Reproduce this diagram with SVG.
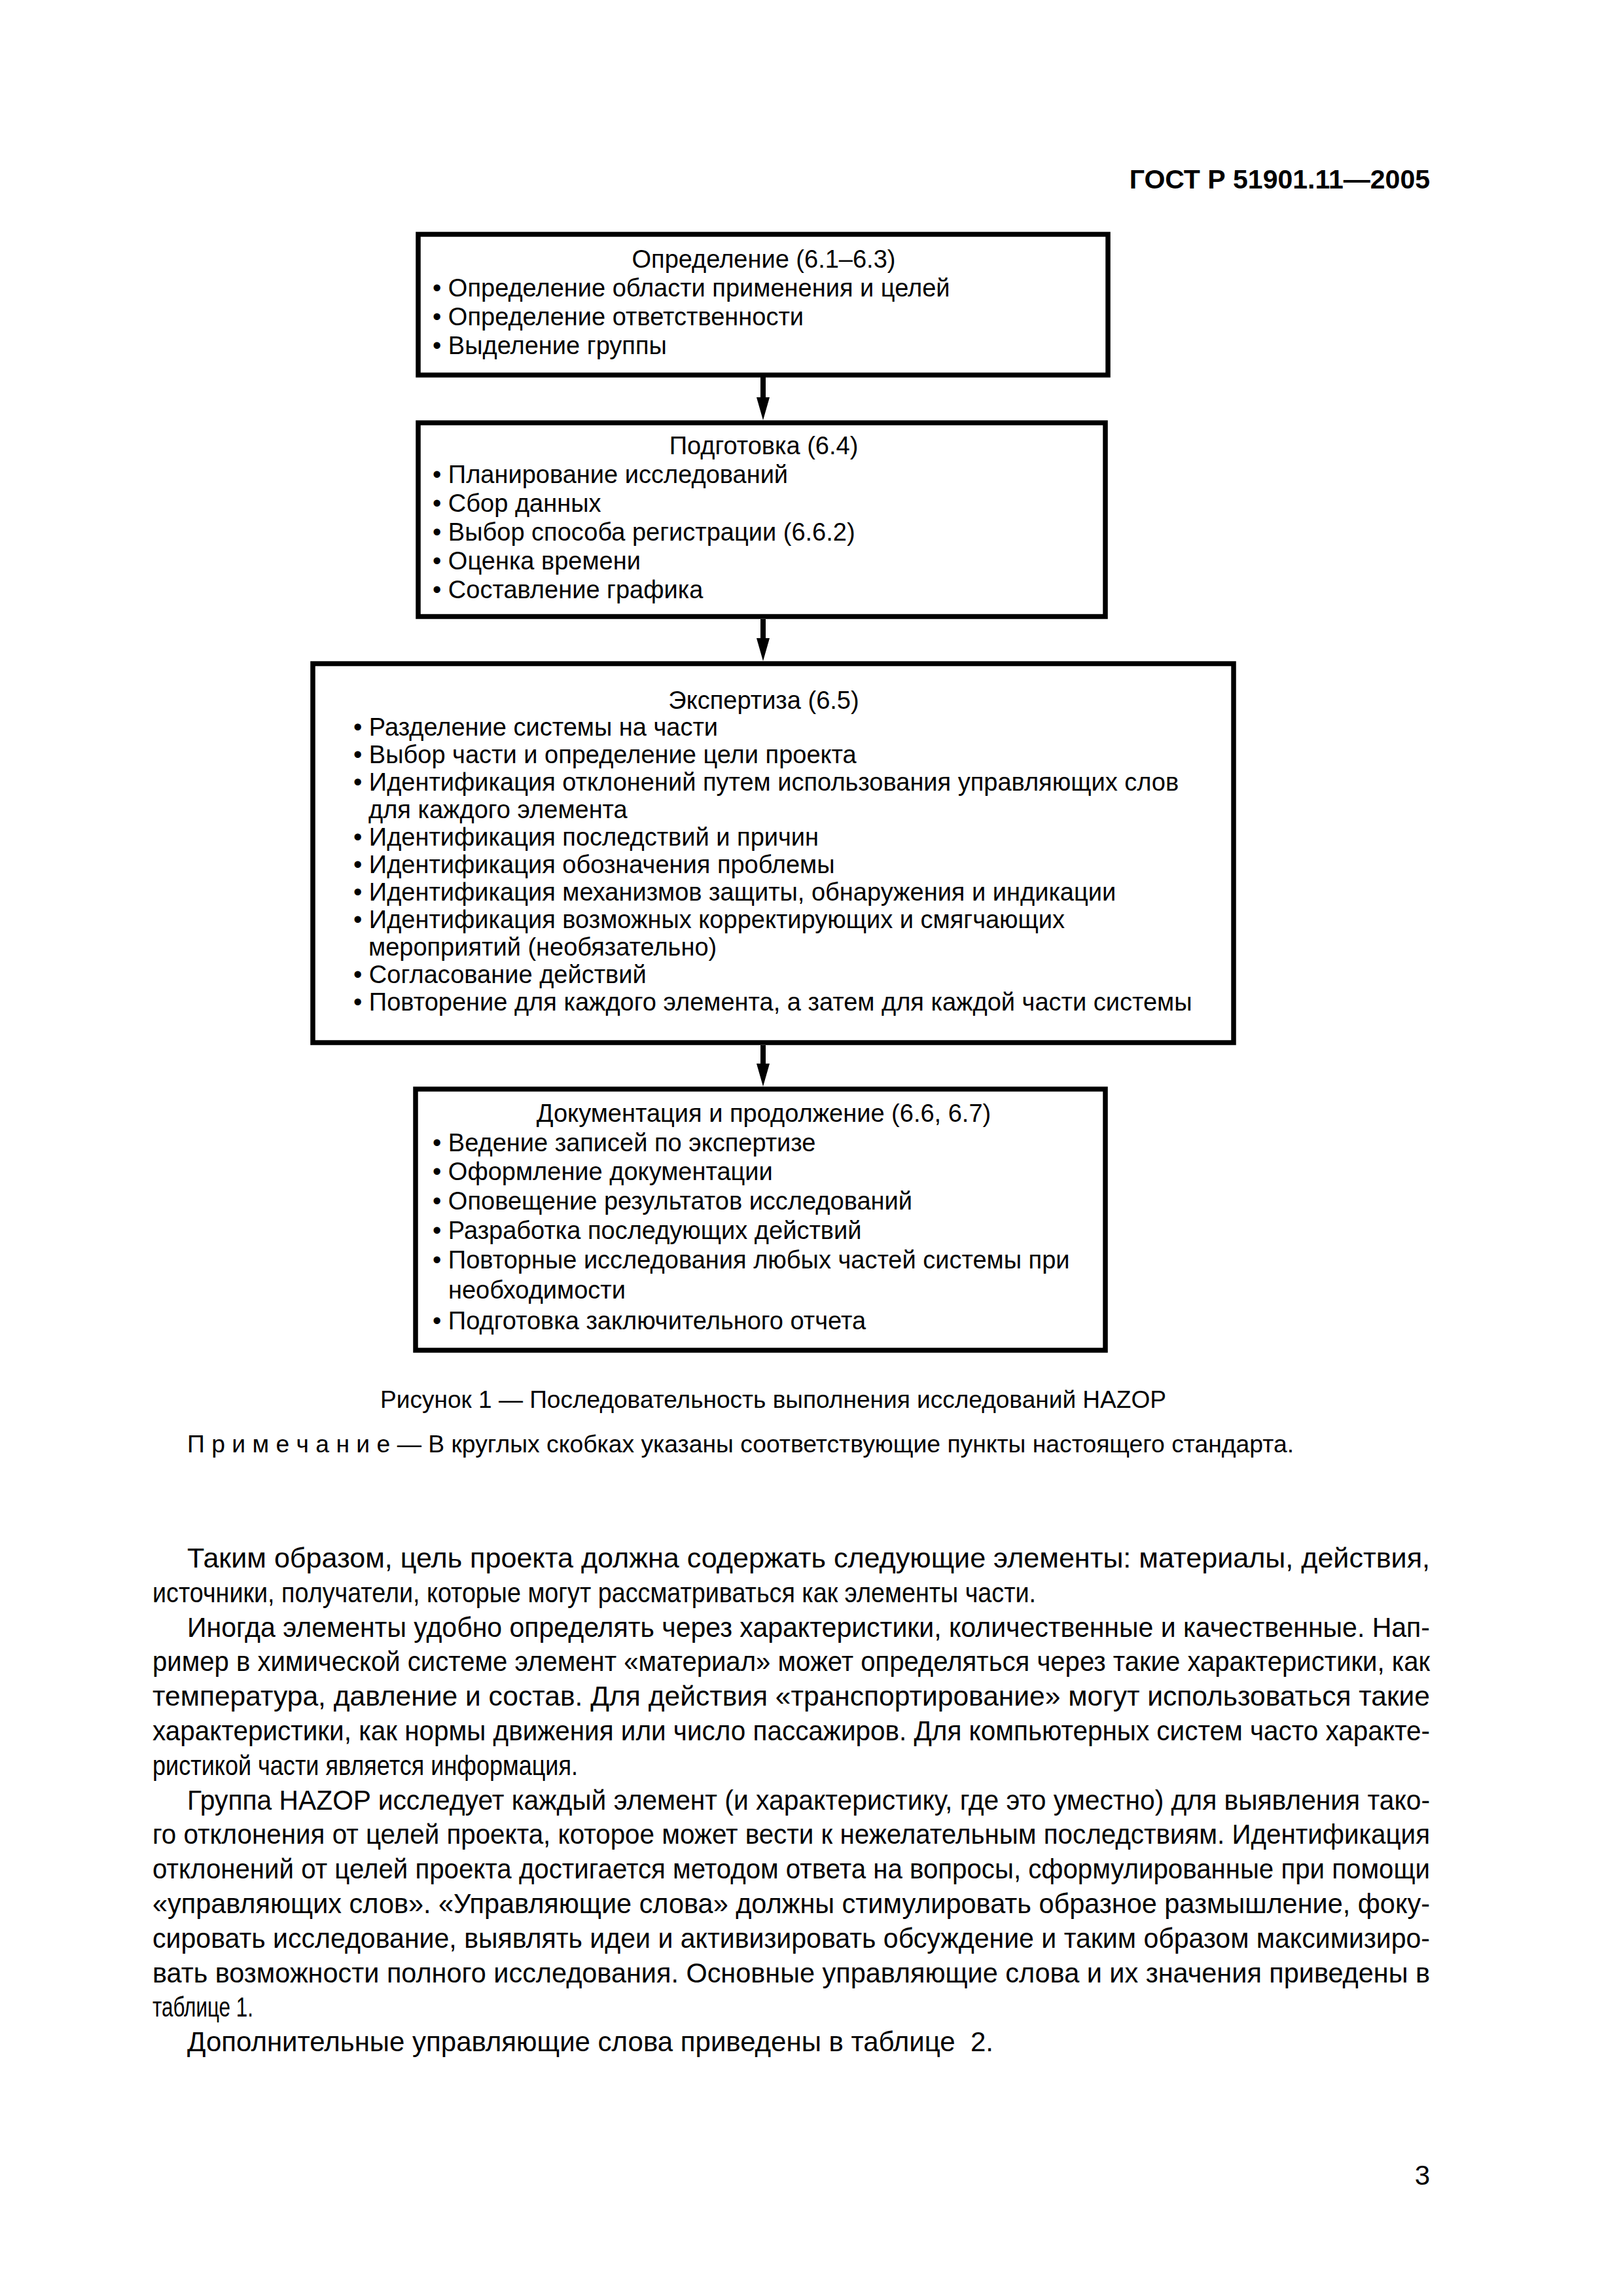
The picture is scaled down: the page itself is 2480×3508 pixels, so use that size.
<svg xmlns="http://www.w3.org/2000/svg" width="2480" height="3508" viewBox="0 0 2480 3508">
<style>
.bg{fill:#fff}
.box{fill:none;stroke:#000;stroke-width:7.5}
.t{font-family:"Liberation Sans",Arial,sans-serif;font-size:38px;fill:#000}
.c{text-anchor:middle}
.body{font-family:"Liberation Sans",Arial,sans-serif;font-size:42px;fill:#000}
.cap{font-family:"Liberation Sans",Arial,sans-serif;font-size:36px;fill:#000}
.hdr{font-family:"Liberation Sans",Arial,sans-serif;font-size:41px;font-weight:bold;fill:#000;text-anchor:end}
.shaft{stroke:#000;stroke-width:8}
.head{fill:#000}
</style>
<rect class="bg" x="0" y="0" width="2480" height="3508"/>
<text class="hdr" x="2185" y="288">ГОСТ Р 51901.11—2005</text>

<g id="connectors">
<line class="shaft" x1="1166" y1="576" x2="1166" y2="612"/>
<polygon class="head" points="1156,607 1176,607 1166,642"/>
<line class="shaft" x1="1166" y1="946" x2="1166" y2="980"/>
<polygon class="head" points="1156,975 1176,975 1166,1010"/>
<line class="shaft" x1="1166" y1="1597" x2="1166" y2="1630"/>
<polygon class="head" points="1156,1625 1176,1625 1166,1660"/>
</g>

<g id="node-definition">
<rect class="box" x="639" y="358" width="1054" height="215"/>
<text class="t c" x="1167" y="409">Определение (6.1–6.3)</text>
<text class="t" x="661" y="453">• Определение области применения и целей</text>
<text class="t" x="661" y="497">• Определение ответственности</text>
<text class="t" x="661" y="541">• Выделение группы</text>
</g>

<g id="node-preparation">
<rect class="box" x="639" y="646" width="1050" height="296"/>
<text class="t c" x="1167" y="694">Подготовка (6.4)</text>
<text class="t" x="661" y="738">• Планирование исследований</text>
<text class="t" x="661" y="782">• Сбор данных</text>
<text class="t" x="661" y="826">• Выбор способа регистрации (6.6.2)</text>
<text class="t" x="661" y="870">• Оценка времени</text>
<text class="t" x="661" y="914">• Составление графика</text>
</g>

<g id="node-expertise">
<rect class="box" x="478" y="1014" width="1407" height="579"/>
<text class="t c" x="1167" y="1083">Экспертиза (6.5)</text>
<text class="t" x="540" y="1124">• Разделение системы на части</text>
<text class="t" x="540" y="1166">• Выбор части и определение цели проекта</text>
<text class="t" x="540" y="1208">• Идентификация отклонений путем использования управляющих слов</text>
<text class="t" x="563" y="1250">для каждого элемента</text>
<text class="t" x="540" y="1292">• Идентификация последствий и причин</text>
<text class="t" x="540" y="1334">• Идентификация обозначения проблемы</text>
<text class="t" x="540" y="1376">• Идентификация механизмов защиты, обнаружения и индикации</text>
<text class="t" x="540" y="1418">• Идентификация возможных корректирующих и смягчающих</text>
<text class="t" x="563" y="1460">мероприятий (необязательно)</text>
<text class="t" x="540" y="1502">• Согласование действий</text>
<text class="t" x="540" y="1544">• Повторение для каждого элемента, а затем для каждой части системы</text>
</g>

<g id="node-documentation">
<rect class="box" x="635" y="1664" width="1054" height="399"/>
<text class="t c" x="1167" y="1714">Документация и продолжение (6.6, 6.7)</text>
<text class="t" x="661" y="1759">• Ведение записей по экспертизе</text>
<text class="t" x="661" y="1803">• Оформление документации</text>
<text class="t" x="661" y="1848">• Оповещение результатов исследований</text>
<text class="t" x="661" y="1893">• Разработка последующих действий</text>
<text class="t" x="661" y="1938">• Повторные исследования любых частей системы при</text>
<text class="t" x="685" y="1984">необходимости</text>
<text class="t" x="661" y="2031">• Подготовка заключительного отчета</text>
</g>

<text class="cap" x="581" y="2151" textLength="1201" lengthAdjust="spacingAndGlyphs">Рисунок 1 — Последовательность выполнения исследований HAZOP</text>
<text class="cap" x="286" y="2219" textLength="1691" lengthAdjust="spacingAndGlyphs">П р и м е ч а н и е — В круглых скобках указаны соответствующие пункты настоящего стандарта.</text>

<g id="body">
<text class="body" x="286" y="2395" textLength="1899" lengthAdjust="spacingAndGlyphs">Таким образом, цель проекта должна содержать следующие элементы: материалы, действия,</text>
<text class="body" x="233" y="2448" textLength="1350" lengthAdjust="spacingAndGlyphs">источники, получатели, которые могут рассматриваться как элементы части.</text>
<text class="body" x="286" y="2501" textLength="1899" lengthAdjust="spacingAndGlyphs">Иногда элементы удобно определять через характеристики, количественные и качественные. Нап-</text>
<text class="body" x="233" y="2553" textLength="1952" lengthAdjust="spacingAndGlyphs">ример в химической системе элемент «материал» может определяться через такие характеристики, как</text>
<text class="body" x="233" y="2606" textLength="1952" lengthAdjust="spacingAndGlyphs">температура, давление и состав. Для действия «транспортирование» могут использоваться такие</text>
<text class="body" x="233" y="2659" textLength="1952" lengthAdjust="spacingAndGlyphs">характеристики, как нормы движения или число пассажиров. Для компьютерных систем часто характе-</text>
<text class="body" x="233" y="2712" textLength="650" lengthAdjust="spacingAndGlyphs">ристикой части является информация.</text>
<text class="body" x="286" y="2765" textLength="1899" lengthAdjust="spacingAndGlyphs">Группа HAZOP исследует каждый элемент (и характеристику, где это уместно) для выявления тако-</text>
<text class="body" x="233" y="2817" textLength="1952" lengthAdjust="spacingAndGlyphs">го отклонения от целей проекта, которое может вести к нежелательным последствиям. Идентификация</text>
<text class="body" x="233" y="2870" textLength="1952" lengthAdjust="spacingAndGlyphs">отклонений от целей проекта достигается методом ответа на вопросы, сформулированные при помощи</text>
<text class="body" x="233" y="2923" textLength="1952" lengthAdjust="spacingAndGlyphs">«управляющих слов». «Управляющие слова» должны стимулировать образное размышление, фоку-</text>
<text class="body" x="233" y="2976" textLength="1952" lengthAdjust="spacingAndGlyphs">сировать исследование, выявлять идеи и активизировать обсуждение и таким образом максимизиро-</text>
<text class="body" x="233" y="3029" textLength="1952" lengthAdjust="spacingAndGlyphs">вать возможности полного исследования. Основные управляющие слова и их значения приведены в</text>
<text class="body" x="233" y="3081" textLength="154" lengthAdjust="spacingAndGlyphs">таблице 1.</text>
<text class="body" x="286" y="3134" textLength="1232" lengthAdjust="spacingAndGlyphs" xml:space="preserve">Дополнительные управляющие слова приведены в таблице  2.</text>
</g>
<text class="body" x="2185" y="3338" text-anchor="end">3</text>
</svg>
